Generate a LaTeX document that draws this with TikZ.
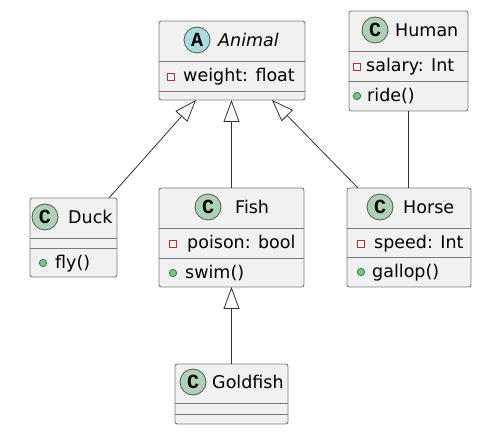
\documentclass[tikz,border=0pt]{standalone}
\usepackage{fontspec}
\setmainfont{DejaVu Sans}
\newfontfamily\monob{Liberation Mono}
\usetikzlibrary{arrows.meta,calc}
\definecolor{boxf}{HTML}{F1F1F1}
\definecolor{boxc}{HTML}{7A7A7A}
\definecolor{linec}{HTML}{303030}
\definecolor{badgec}{HTML}{555555}
\definecolor{abg}{HTML}{A9DCDF}
\definecolor{cbg}{HTML}{ADD1B2}
\definecolor{privc}{HTML}{C82930}
\definecolor{pubf}{HTML}{84BE84}
\definecolor{pubd}{HTML}{038048}
\tikzset{
 cls/.style={draw=boxc, fill=boxf, line width=0.9pt, rounded corners=2.5pt, anchor=north west, inner sep=0pt, outer sep=0pt, rectangle},
 sepline/.style={draw=boxc, line width=0.9pt},
 badge/.style={circle, draw=badgec, line width=0.8pt, minimum size=26pt, inner sep=0pt, font=\monob\bfseries\fontsize{20}{20}\selectfont},
 ttl/.style={anchor=base west, inner sep=0pt, font=\fontsize{17.5}{20}\selectfont},
 mem/.style={anchor=base west, inner sep=0pt, font=\fontsize{17.5}{20}\selectfont},
 priv/.style={rectangle, draw=privc, fill=white, line width=0.8pt, minimum size=7pt, inner sep=0pt},
 pub/.style={circle, draw=pubd, fill=pubf, line width=0.6pt, minimum size=7.5pt, inner sep=0pt},
 inh/.style={draw=linec, line width=0.8pt, -{Triangle[open, length=22pt, width=16pt]}},
 assoc/.style={draw=linec, line width=0.8pt}
}
\begin{document}
\begin{tikzpicture}[x=1pt, y=-1pt]
\useasboundingbox (0,0) rectangle (495,435);

% Animal
\node[cls, minimum width=146pt, minimum height=79pt] (animal) at (159,21) {};
\draw[sepline] ($(animal.north west)+(0,40)$) -- ($(animal.north east)+(0,40)$);
\draw[sepline] ($(animal.north west)+(0,70)$) -- ($(animal.north east)+(0,70)$);
\node[badge, fill=abg] (animalB) at (197,40) {A};
\node[ttl, font=\fontsize{17.5}{20}\selectfont\itshape] (animalT) at (218,46.5) {Animal};
\node[priv] (animalP1) at (171,77) {};
\node[mem] (animalA1) at (183,82) {weight: float};

% Human
\node[cls, minimum width=119pt, minimum height=100pt] (human) at (349,11) {};
\draw[sepline] ($(human.north west)+(0,40)$) -- ($(human.north east)+(0,40)$);
\draw[sepline] ($(human.north west)+(0,70)$) -- ($(human.north east)+(0,70)$);
\node[badge, fill=cbg] (humanB) at (375,30) {C};
\node[ttl] (humanT) at (395,36.5) {Human};
\node[priv] (humanP1) at (356.5,67) {};
\node[mem] (humanA1) at (366,72) {salary: Int};
\node[pub] (humanP2) at (357,96) {};
\node[mem] (humanM1) at (367,102) {ride()};

% Duck
\node[cls, minimum width=87pt, minimum height=79pt] (duck) at (30,198) {};
\draw[sepline] ($(duck.north west)+(0,40)$) -- ($(duck.north east)+(0,40)$);
\draw[sepline] ($(duck.north west)+(0,50)$) -- ($(duck.north east)+(0,50)$);
\node[badge, fill=cbg] (duckB) at (45,217) {C};
\node[ttl] (duckT) at (68,223.5) {Duck};
\node[pub] (duckP1) at (43,263) {};
\node[mem] (duckM1) at (55,269) {fly()};

% Fish
\node[cls, minimum width=145pt, minimum height=99pt] (fish) at (159,188) {};
\draw[sepline] ($(fish.north west)+(0,40)$) -- ($(fish.north east)+(0,40)$);
\draw[sepline] ($(fish.north west)+(0,70)$) -- ($(fish.north east)+(0,70)$);
\node[badge, fill=cbg] (fishB) at (208,207) {C};
\node[ttl] (fishT) at (235,213.5) {Fish};
\node[priv] (fishP1) at (173,244) {};
\node[mem] (fishA1) at (187,249) {poison: bool};
\node[pub] (fishP2) at (173,273) {};
\node[mem] (fishM1) at (185,279) {swim()};

% Horse
\node[cls, minimum width=124pt, minimum height=99pt] (horse) at (347,188) {};
\draw[sepline] ($(horse.north west)+(0,40)$) -- ($(horse.north east)+(0,40)$);
\draw[sepline] ($(horse.north west)+(0,69)$) -- ($(horse.north east)+(0,69)$);
\node[badge, fill=cbg] (horseB) at (380,207) {C};
\node[ttl] (horseT) at (403,213.5) {Horse};
\node[priv] (horseP1) at (361,244) {};
\node[mem] (horseA1) at (374,249) {speed: Int};
\node[pub] (horseP2) at (361,272) {};
\node[mem] (horseM1) at (372,278) {gallop()};

% Goldfish
\node[cls, minimum width=113pt, minimum height=60pt] (gold) at (175,364) {};
\draw[sepline] ($(gold.north west)+(0,39)$) -- ($(gold.north east)+(0,39)$);
\draw[sepline] ($(gold.north west)+(0,50)$) -- ($(gold.north east)+(0,50)$);
\node[badge, fill=cbg] (goldB) at (193,382) {C};
\node[ttl] (goldT) at (212,388.5) {Goldfish};

% connectors
\draw[inh] ($(duck.north east)+(-8,0)$) -- ($(animal.south west)+(37,0)$);
\draw[inh] (fish.north) -- (fish.north |- animal.south);
\draw[inh] ($(horse.north west)+(11,0)$) -- ($(animal.south east)+(-33,0)$);
\draw[assoc] (human.south) -- (human.south |- horse.north);
\draw[inh] (gold.north) -- (gold.north |- fish.south);
\end{tikzpicture}
\end{document}
